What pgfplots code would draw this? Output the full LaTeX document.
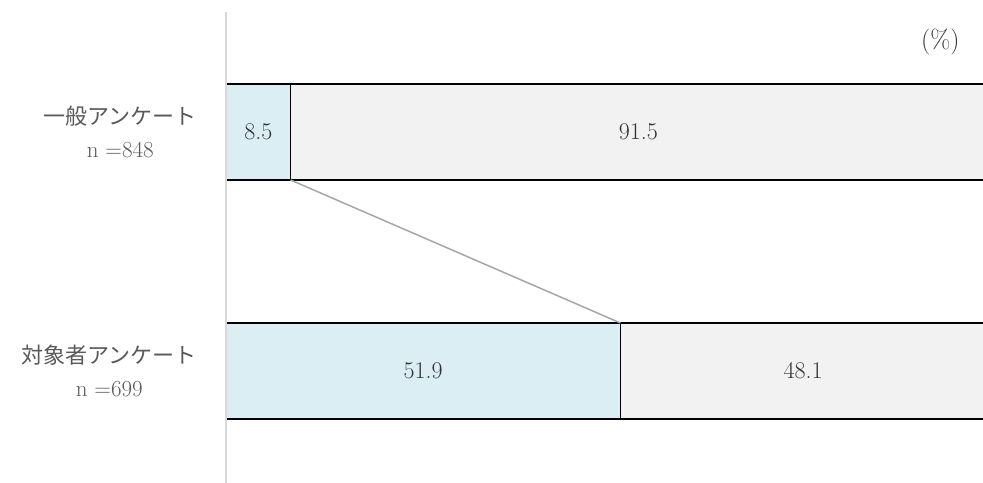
\documentclass[border=0pt]{standalone}
\usepackage{pgfplots}
\pgfplotsset{compat=1.18}
\usepackage{fontspec}
\newfontfamily\cjk{Noto Sans CJK JP}
\definecolor{barblue}{HTML}{DAEEF3}
\definecolor{bargray}{HTML}{F2F2F2}
\definecolor{txt}{HTML}{595959}
\definecolor{numtxt}{HTML}{333333}
\definecolor{axgray}{HTML}{D9D9D9}
\definecolor{linkgray}{HTML}{A6A6A6}
\begin{document}
\begin{tikzpicture}
\path[use as bounding box] (0bp,0bp) rectangle (983bp,483bp);
\pgfplotsset{base/.style={
    at={(226bp,0bp)}, anchor=south west,
    scale only axis, width=760bp, height=471bp,
    xmin=0, xmax=100, ymin=0, ymax=471,
    enlargelimits=false, clip=false}}
\begin{axis}[base,
    xbar stacked, bar width=96,
    axis x line=none, axis y line=left,
    y axis line style={-, color=axgray, line width=1.5bp},
    axis on top,
    xtick=\empty, ytick={112,351},
    major tick length=0pt,
    yticklabels={{対象者アンケート\\\rmfamily\fontsize{23bp}{33bp}\selectfont n =699},{一般アンケート\\\rmfamily\fontsize{23bp}{33bp}\selectfont n =848}},
    yticklabel style={align=center, inner sep=0pt, xshift=-29bp,
      text=txt, font=\cjk\fontsize{22bp}{33bp}\selectfont}]
\addplot[fill=barblue, draw=black, line width=1.6bp] coordinates {(8.5,351) (51.9,112)};
\addplot[fill=bargray, draw=black, line width=1.6bp] coordinates {(91.5,351) (48.1,112)};
\end{axis}
\begin{axis}[base, axis lines=none, xtick=\empty, ytick=\empty]
\addplot[color=linkgray, line width=1.5bp] coordinates {(8.5,303) (51.9,160)};
\addplot[draw=none, mark=none, nodes near coords, point meta=explicit symbolic,
    every node near coord/.style={anchor=center, text=numtxt,
      font=\fontsize{24bp}{28bp}\selectfont}]
  coordinates {(4.25,351)[8.5] (54.25,351)[91.5] (25.95,112)[51.9] (75.95,112)[48.1]};
\node[text=numtxt, font=\fontsize{26bp}{30bp}\selectfont] at (axis cs:94.0,441) {(\%)};
\end{axis}
\end{tikzpicture}
\end{document}
